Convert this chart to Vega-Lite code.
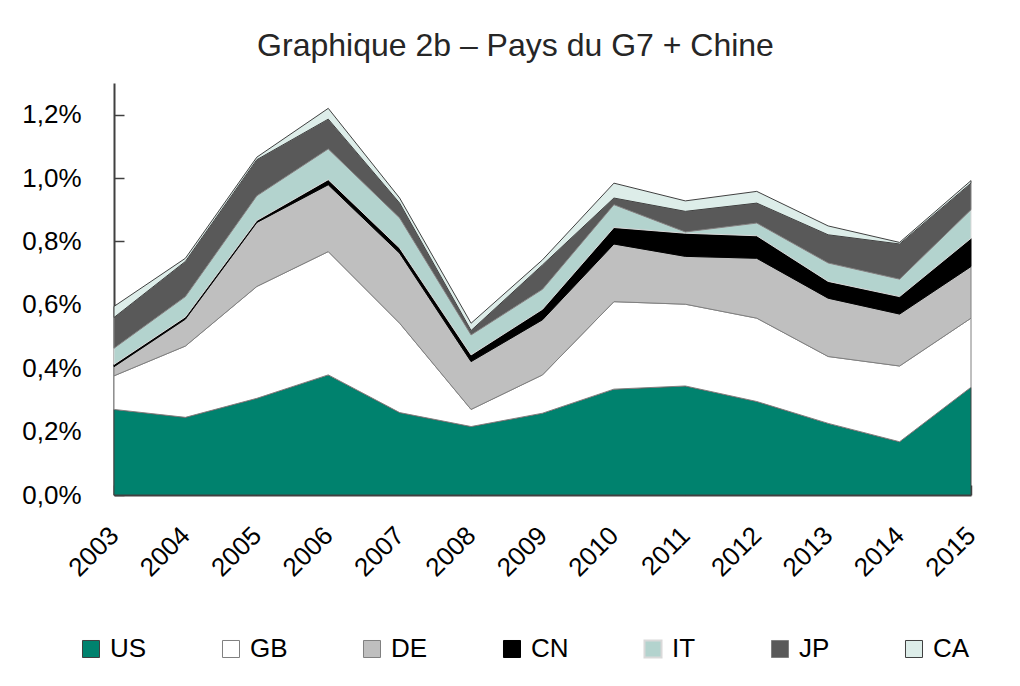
{
  "$schema": "https://vega.github.io/schema/vega-lite/v6.json",
  "autosize": "none",
  "width": 857,
  "height": 412,
  "padding": {"left": 114, "top": 83, "right": 49, "bottom": 191},
  "background": "white",
  "title": {
    "text": "Graphique 2b – Pays du G7 + Chine",
    "fontSize": 32,
    "fontWeight": "normal",
    "color": "#262626",
    "anchor": "middle",
    "dx": -27,
    "offset": 20
  },
  "data": {
    "values": [
      {"annee": "2003", "pays": "US", "rang": 1, "v": 0.270},
      {"annee": "2003", "pays": "GB", "rang": 2, "v": 0.106},
      {"annee": "2003", "pays": "DE", "rang": 3, "v": 0.029},
      {"annee": "2003", "pays": "CN", "rang": 4, "v": 0.007},
      {"annee": "2003", "pays": "IT", "rang": 5, "v": 0.051},
      {"annee": "2003", "pays": "JP", "rang": 6, "v": 0.097},
      {"annee": "2003", "pays": "CA", "rang": 7, "v": 0.035},

      {"annee": "2004", "pays": "US", "rang": 1, "v": 0.245},
      {"annee": "2004", "pays": "GB", "rang": 2, "v": 0.225},
      {"annee": "2004", "pays": "DE", "rang": 3, "v": 0.085},
      {"annee": "2004", "pays": "CN", "rang": 4, "v": 0.007},
      {"annee": "2004", "pays": "IT", "rang": 5, "v": 0.064},
      {"annee": "2004", "pays": "JP", "rang": 6, "v": 0.111},
      {"annee": "2004", "pays": "CA", "rang": 7, "v": 0.010},

      {"annee": "2005", "pays": "US", "rang": 1, "v": 0.305},
      {"annee": "2005", "pays": "GB", "rang": 2, "v": 0.353},
      {"annee": "2005", "pays": "DE", "rang": 3, "v": 0.202},
      {"annee": "2005", "pays": "CN", "rang": 4, "v": 0.006},
      {"annee": "2005", "pays": "IT", "rang": 5, "v": 0.078},
      {"annee": "2005", "pays": "JP", "rang": 6, "v": 0.114},
      {"annee": "2005", "pays": "CA", "rang": 7, "v": 0.008},

      {"annee": "2006", "pays": "US", "rang": 1, "v": 0.379},
      {"annee": "2006", "pays": "GB", "rang": 2, "v": 0.389},
      {"annee": "2006", "pays": "DE", "rang": 3, "v": 0.211},
      {"annee": "2006", "pays": "CN", "rang": 4, "v": 0.016},
      {"annee": "2006", "pays": "IT", "rang": 5, "v": 0.097},
      {"annee": "2006", "pays": "JP", "rang": 6, "v": 0.094},
      {"annee": "2006", "pays": "CA", "rang": 7, "v": 0.034},

      {"annee": "2007", "pays": "US", "rang": 1, "v": 0.260},
      {"annee": "2007", "pays": "GB", "rang": 2, "v": 0.282},
      {"annee": "2007", "pays": "DE", "rang": 3, "v": 0.221},
      {"annee": "2007", "pays": "CN", "rang": 4, "v": 0.016},
      {"annee": "2007", "pays": "IT", "rang": 5, "v": 0.095},
      {"annee": "2007", "pays": "JP", "rang": 6, "v": 0.047},
      {"annee": "2007", "pays": "CA", "rang": 7, "v": 0.016},

      {"annee": "2008", "pays": "US", "rang": 1, "v": 0.216},
      {"annee": "2008", "pays": "GB", "rang": 2, "v": 0.054},
      {"annee": "2008", "pays": "DE", "rang": 3, "v": 0.151},
      {"annee": "2008", "pays": "CN", "rang": 4, "v": 0.021},
      {"annee": "2008", "pays": "IT", "rang": 5, "v": 0.063},
      {"annee": "2008", "pays": "JP", "rang": 6, "v": 0.014},
      {"annee": "2008", "pays": "CA", "rang": 7, "v": 0.023},

      {"annee": "2009", "pays": "US", "rang": 1, "v": 0.258},
      {"annee": "2009", "pays": "GB", "rang": 2, "v": 0.121},
      {"annee": "2009", "pays": "DE", "rang": 3, "v": 0.174},
      {"annee": "2009", "pays": "CN", "rang": 4, "v": 0.033},
      {"annee": "2009", "pays": "IT", "rang": 5, "v": 0.063},
      {"annee": "2009", "pays": "JP", "rang": 6, "v": 0.077},
      {"annee": "2009", "pays": "CA", "rang": 7, "v": 0.016},

      {"annee": "2010", "pays": "US", "rang": 1, "v": 0.334},
      {"annee": "2010", "pays": "GB", "rang": 2, "v": 0.276},
      {"annee": "2010", "pays": "DE", "rang": 3, "v": 0.182},
      {"annee": "2010", "pays": "CN", "rang": 4, "v": 0.052},
      {"annee": "2010", "pays": "IT", "rang": 5, "v": 0.072},
      {"annee": "2010", "pays": "JP", "rang": 6, "v": 0.021},
      {"annee": "2010", "pays": "CA", "rang": 7, "v": 0.047},

      {"annee": "2011", "pays": "US", "rang": 1, "v": 0.344},
      {"annee": "2011", "pays": "GB", "rang": 2, "v": 0.258},
      {"annee": "2011", "pays": "DE", "rang": 3, "v": 0.151},
      {"annee": "2011", "pays": "CN", "rang": 4, "v": 0.073},
      {"annee": "2011", "pays": "IT", "rang": 5, "v": 0.004},
      {"annee": "2011", "pays": "JP", "rang": 6, "v": 0.065},
      {"annee": "2011", "pays": "CA", "rang": 7, "v": 0.033},

      {"annee": "2012", "pays": "US", "rang": 1, "v": 0.295},
      {"annee": "2012", "pays": "GB", "rang": 2, "v": 0.263},
      {"annee": "2012", "pays": "DE", "rang": 3, "v": 0.189},
      {"annee": "2012", "pays": "CN", "rang": 4, "v": 0.071},
      {"annee": "2012", "pays": "IT", "rang": 5, "v": 0.040},
      {"annee": "2012", "pays": "JP", "rang": 6, "v": 0.063},
      {"annee": "2012", "pays": "CA", "rang": 7, "v": 0.037},

      {"annee": "2013", "pays": "US", "rang": 1, "v": 0.226},
      {"annee": "2013", "pays": "GB", "rang": 2, "v": 0.211},
      {"annee": "2013", "pays": "DE", "rang": 3, "v": 0.184},
      {"annee": "2013", "pays": "CN", "rang": 4, "v": 0.053},
      {"annee": "2013", "pays": "IT", "rang": 5, "v": 0.058},
      {"annee": "2013", "pays": "JP", "rang": 6, "v": 0.089},
      {"annee": "2013", "pays": "CA", "rang": 7, "v": 0.028},

      {"annee": "2014", "pays": "US", "rang": 1, "v": 0.168},
      {"annee": "2014", "pays": "GB", "rang": 2, "v": 0.239},
      {"annee": "2014", "pays": "DE", "rang": 3, "v": 0.164},
      {"annee": "2014", "pays": "CN", "rang": 4, "v": 0.055},
      {"annee": "2014", "pays": "IT", "rang": 5, "v": 0.055},
      {"annee": "2014", "pays": "JP", "rang": 6, "v": 0.111},
      {"annee": "2014", "pays": "CA", "rang": 7, "v": 0.005},

      {"annee": "2015", "pays": "US", "rang": 1, "v": 0.340},
      {"annee": "2015", "pays": "GB", "rang": 2, "v": 0.218},
      {"annee": "2015", "pays": "DE", "rang": 3, "v": 0.163},
      {"annee": "2015", "pays": "CN", "rang": 4, "v": 0.089},
      {"annee": "2015", "pays": "IT", "rang": 5, "v": 0.090},
      {"annee": "2015", "pays": "JP", "rang": 6, "v": 0.084},
      {"annee": "2015", "pays": "CA", "rang": 7, "v": 0.008}
    ]
  },
  "mark": {"type": "area", "strokeWidth": 1, "interpolate": "linear"},
  "encoding": {
    "x": {
      "field": "annee",
      "type": "ordinal",
      "scale": {"type": "point", "padding": 0},
      "axis": {
        "title": null,
        "labelAngle": -45,
        "labelAlign": "right",
        "labelBaseline": "middle",
        "labelFontSize": 26,
        "labelPadding": 46,
        "labelOverlap": false,
        "tickSize": -10,
        "grid": false
      }
    },
    "y": {
      "field": "v",
      "type": "quantitative",
      "stack": "zero",
      "scale": {"domain": [0, 1.3], "nice": false},
      "axis": {
        "title": null,
        "values": [0, 0.2, 0.4, 0.6, 0.8, 1.0, 1.2],
        "labelExpr": "replace(format(datum.value, '.1f'), '.', ',') + '%'",
        "labelFontSize": 26,
        "labelPadding": 43,
        "tickSize": -10,
        "grid": false
      }
    },
    "fill": {
      "field": "pays",
      "type": "nominal",
      "sort": ["US", "GB", "DE", "CN", "IT", "JP", "CA"],
      "scale": {
        "domain": ["US", "GB", "DE", "CN", "IT", "JP", "CA"],
        "range": ["#00826e", "#ffffff", "#bfbfbf", "#000000", "#b3d3ce", "#595959", "#ddede9"]
      },
      "legend": {
        "title": null,
        "orient": "none",
        "direction": "horizontal",
        "legendX": -36,
        "legendY": 553,
        "symbolType": "square",
        "symbolSize": 290,
        "symbolStrokeColor": "#7f7f7f",
        "symbolStrokeWidth": 1,
        "labelFontSize": 26,
        "labelOffset": 6,
        "columnPadding": 71,
        "labelColor": "#000000",
        "encode": {
          "symbols": {
            "update": {
              "stroke": {"signal": "datum.value === 'IT' ? '#000000' : datum.value === 'JP' ? '#d9d9d9' : datum.value === 'US' ? '#00826e' : '#7f7f7f'"},
              "strokeWidth": {"signal": "datum.value === 'IT' ? 2 : 1"}
            }
          }
        }
      }
    },
    "stroke": {
      "field": "pays",
      "type": "nominal",
      "scale": {
        "domain": ["US", "GB", "DE", "CN", "IT", "JP", "CA"],
        "range": ["#404040", "#808080", "#808080", "#000000", "#d9d9d9", "#808080", "#404040"]
      },
      "legend": null
    },
    "order": {"field": "rang", "type": "quantitative", "sort": "ascending"}
  },
  "config": {
    "font": "Liberation Sans",
    "view": {"stroke": null},
    "axis": {
      "domainColor": "#404040",
      "domainWidth": 2,
      "tickColor": "#404040",
      "tickWidth": 1.5,
      "labelColor": "#000000"
    }
  }
}
